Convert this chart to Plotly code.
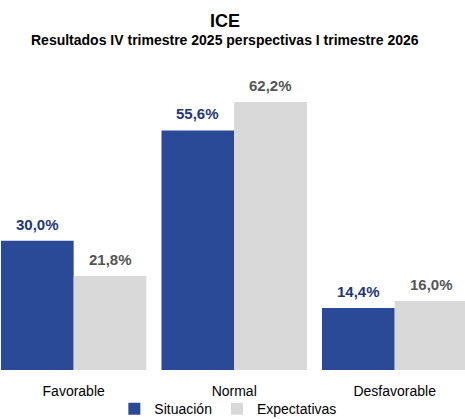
import plotly.graph_objects as go

categories = ["Favorable", "Normal", "Desfavorable"]
situacion = [30.0, 55.6, 14.4]
expectativas = [21.8, 62.2, 16.0]
series_names = ["Situación", "Expectativas"]

BLUE = "#2A4A98"
GREY = "#D9D9D9"
BLUE_TXT = "#1F3773"
GREY_TXT = "#555555"
FONT = "Liberation Sans, Arial, sans-serif"

BARGAP = 0.094

def fmt(v):
    return f"{v:.1f}".replace(".", ",") + "%"

fig = go.Figure()
fig.add_trace(go.Bar(x=categories, y=situacion, name=series_names[0],
                     marker=dict(color=BLUE, line=dict(width=0))))
fig.add_trace(go.Bar(x=categories, y=expectativas, name=series_names[1],
                     marker=dict(color=GREY, line=dict(width=0))))

w = (1 - BARGAP) / 2
annotations = []
for i, (vals, col) in enumerate([(situacion, BLUE_TXT), (expectativas, GREY_TXT)]):
    for j, v in enumerate(vals):
        annotations.append(dict(
            x=j + (i - 0.5) * w, y=v, xref="x", yref="y",
            text=f"<b>{fmt(v)}</b>", showarrow=False,
            yanchor="bottom", yshift=6,
            font=dict(family=FONT, size=15, color=col)))

annotations.append(dict(x=0.484, y=1.155, xref="paper", yref="paper",
                        text="<b>ICE</b>", showarrow=False, yanchor="middle",
                        font=dict(family=FONT, size=18, color="#000000")))
annotations.append(dict(x=0.484, y=1.094, xref="paper", yref="paper",
                        text="<b>Resultados IV trimestre 2025 perspectivas I trimestre 2026</b>",
                        showarrow=False, yanchor="middle",
                        font=dict(family=FONT, size=14, color="#000000")))

fig.update_layout(
    width=465, height=419,
    margin=dict(l=0, r=0, t=68, b=49, pad=0, autoexpand=False),
    paper_bgcolor="white", plot_bgcolor="white",
    barmode="group", bargap=BARGAP, bargroupgap=0,
    font=dict(family=FONT, size=14, color="#000000"),
    xaxis=dict(type="category", range=[-0.459, 2.438], showgrid=False,
               showline=False, zeroline=False, ticks="", automargin=False,
               ticklabelstandoff=11,
               tickfont=dict(family=FONT, size=14, color="#000000")),
    yaxis=dict(range=[0, 70.08], visible=False, showgrid=False, zeroline=False,
               automargin=False),
    legend=dict(orientation="h", x=0.49, xanchor="center", y=-0.13, yanchor="middle",
                font=dict(family=FONT, size=14, color="#000000"),
                itemwidth=30, tracegroupgap=0, bgcolor="rgba(0,0,0,0)"),
    annotations=annotations,
    showlegend=True,
)

fig.write_html("out.html", config={"displayModeBar": False},
               post_script="document.body.style.margin='0';document.body.style.overflow='hidden';")
